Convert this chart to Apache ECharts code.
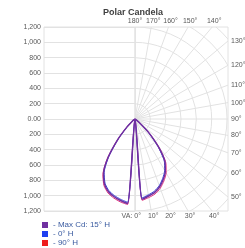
<!DOCTYPE html>
<html>
<head>
<meta charset="utf-8">
<script src="https://cdn.jsdelivr.net/npm/echarts@6/dist/echarts.min.js"></script>
<style>
  html, body { margin: 0; padding: 0; background: #fff; }
  #chart { width: 245px; height: 248px; }
</style>
</head>
<body>
<div id="chart"></div>
<script>
// vertical angles (deg) and candela, right and left half-planes
const vaAngles = [0, 5, 10, 15, 20, 25, 30, 35, 40, 45, 50, 55, 60]
const maxCdRight = [0, 1050, 1020, 990, 940, 870, 790, 680, 480, 260, 90, 20, 0]
const maxCdLeft = [0, 1105, 1080, 1050, 1010, 940, 820, 610, 350, 150, 50, 15, 0]
const h0Right = [0, 1035, 1005, 975, 925, 855, 775, 665, 465, 250, 85, 18, 0]
const h0Left = [0, 1090, 1065, 1035, 995, 925, 805, 595, 340, 145, 48, 14, 0]
const h90Right = [0, 1065, 1040, 1012, 962, 892, 812, 702, 500, 274, 97, 22, 0]
const h90Left = [0, 1120, 1098, 1068, 1028, 958, 838, 628, 364, 160, 55, 16, 0]

const ringValues = [200, 400, 600, 800, 1000, 1200, 1400, 1600, 1800]
const spokeAngles = [0, 10, 20, 30, 40, 50, 60, 70, 80, 90, 100, 110, 120, 130, 140, 150, 160, 170, 180]

const CD_MAX = 1200
const X_RIGHT = 1213
const GRID_COLOR = '#e2e2e2'
const LABEL_COLOR = '#595959'
const FONT = 'Liberation Sans, Arial, sans-serif'

function buildCurve(left, right) {
  const pts = []
  for (let i = vaAngles.length - 1; i >= 1; i--) pts.push([left[i], 360 - vaAngles[i]])
  pts.push([right[0], 0])
  for (let i = 1; i < vaAngles.length; i++) pts.push([right[i], vaAngles[i]])
  return pts
}

// where a spoke leaves the plot box (right half), in data units
function spokeEnd(deg) {
  const a = deg * Math.PI / 180
  const dx = Math.sin(a), dy = -Math.cos(a)
  let t = Infinity, edge = 'right'
  if (dx > 1e-6 && X_RIGHT / dx < t) { t = X_RIGHT / dx; edge = 'right' }
  if (dy > 1e-6 && CD_MAX / dy < t) { t = CD_MAX / dy; edge = 'top' }
  if (dy < -1e-6 && CD_MAX / -dy < t) { t = CD_MAX / -dy; edge = 'bottom' }
  return { x: dx * t, y: dy * t, edge }
}

const chart = echarts.init(document.getElementById('chart'))

const curveLine = (name, color, lineColor, width, data, z) => ({
  name,
  type: 'line',
  coordinateSystem: 'polar',
  polarIndex: 0,
  data,
  showSymbol: false,
  smooth: 0.2,
  silent: true,
  z,
  itemStyle: { color },
  lineStyle: { color: lineColor, width },
})

chart.setOption({
  animation: false,
  title: {
    text: 'Polar Candela',
    left: 103,
    top: 8,
    padding: 0,
    textStyle: { fontSize: 9, fontWeight: 'bold', color: '#404040', fontFamily: FONT },
  },
  legend: {
    data: ['Max Cd: 15° H', '0° H', '90° H'],
    orient: 'vertical',
    left: 42,
    top: 221,
    padding: 0,
    itemGap: 1,
    itemWidth: 6,
    itemHeight: 6,
    icon: 'rect',
    formatter: '- {name}',
    textStyle: { fontSize: 8, lineHeight: 8, color: '#3a5ba0', fontFamily: FONT },
  },
  grid: [
    { left: 44, width: 91, top: 27, height: 184, show: true, borderColor: GRID_COLOR, borderWidth: 1 },
    { left: 135, width: 93, top: 27, height: 184, show: true, borderColor: GRID_COLOR, borderWidth: 1 },
  ],
  xAxis: [
    { gridIndex: 0, type: 'value', min: -1200, max: 0, show: false },
    { gridIndex: 1, type: 'value', min: 0, max: X_RIGHT, show: false },
  ],
  yAxis: [
    {
      gridIndex: 0,
      type: 'value',
      min: -CD_MAX,
      max: CD_MAX,
      interval: 200,
      axisLine: { show: false },
      axisTick: { show: false },
      axisLabel: {
        margin: 3,
        fontSize: 7,
        color: LABEL_COLOR,
        fontFamily: FONT,
        formatter: (v) => (v === 0 ? '0.00' : Math.abs(v).toLocaleString('en-US')),
      },
      splitLine: { lineStyle: { color: GRID_COLOR, width: 1 } },
    },
    { gridIndex: 1, type: 'value', min: -CD_MAX, max: CD_MAX, show: false },
  ],
  polar: { center: [135, 119], radius: 92 },
  angleAxis: { min: 0, max: 360, startAngle: 270, clockwise: false, show: false },
  radiusAxis: { min: 0, max: CD_MAX, show: false },
  series: [
    {
      name: 'rings',
      type: 'custom',
      xAxisIndex: 1,
      yAxisIndex: 1,
      clip: true,
      silent: true,
      z: 1,
      data: ringValues.map((r) => [r]),
      renderItem(params, api) {
        const c = api.coord([0, 0])
        const r = api.size([api.value(0), 0])[0]
        return {
          type: 'arc',
          shape: { cx: c[0], cy: c[1], r, startAngle: -Math.PI / 2, endAngle: Math.PI / 2 },
          style: { stroke: GRID_COLOR, fill: null, lineWidth: 1 },
        }
      },
    },
    {
      name: 'spokes',
      type: 'custom',
      xAxisIndex: 1,
      yAxisIndex: 1,
      clip: true,
      silent: true,
      z: 1,
      data: spokeAngles.map((a) => [a]),
      renderItem(params, api) {
        const e = spokeEnd(api.value(0))
        const p0 = api.coord([0, 0])
        const p1 = api.coord([e.x, e.y])
        return {
          type: 'line',
          shape: { x1: p0[0], y1: p0[1], x2: p1[0], y2: p1[1] },
          style: { stroke: GRID_COLOR, lineWidth: 1 },
        }
      },
    },
    {
      name: 'spokeLabels',
      type: 'custom',
      xAxisIndex: 1,
      yAxisIndex: 1,
      clip: false,
      silent: true,
      z: 2,
      data: spokeAngles.map((a) => [a]),
      renderItem(params, api) {
        const deg = api.value(0)
        const e = spokeEnd(deg)
        const p = api.coord([e.x, e.y])
        const style = { text: deg + '°', fill: LABEL_COLOR, fontSize: 7, fontFamily: FONT }
        let x = p[0], y = p[1]
        if (e.edge === 'right') {
          x += 3
          style.align = 'left'
          style.verticalAlign = 'middle'
        } else if (e.edge === 'top') {
          x += deg === 180 ? 0 : 2
          y -= 2
          style.align = 'center'
          style.verticalAlign = 'bottom'
        } else {
          y += 2
          style.verticalAlign = 'top'
          if (deg === 0) {
            style.text = 'VA: 0°'
            style.align = 'right'
            x += 6
          } else {
            x += 2
            style.align = 'center'
          }
        }
        return { type: 'text', x, y, style }
      },
    },
    curveLine('90° H', '#ee1c1c', '#e0307a', 1, buildCurve(h90Left, h90Right), 3),
    curveLine('0° H', '#1f3ff0', '#2f44d8', 1, buildCurve(h0Left, h0Right), 4),
    curveLine('Max Cd: 15° H', '#7030a0', '#7030a0', 1.5, buildCurve(maxCdLeft, maxCdRight), 5),
  ],
})
</script>
</body>
</html>
